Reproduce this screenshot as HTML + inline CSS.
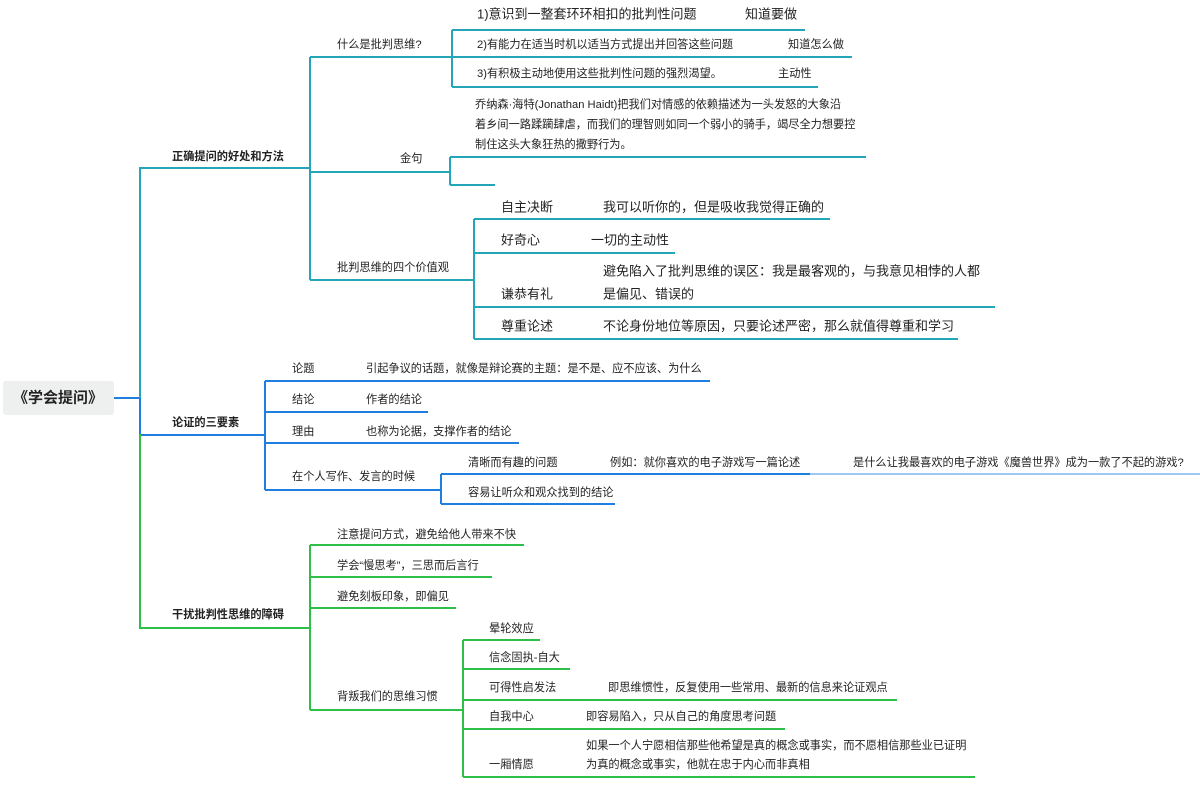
<!DOCTYPE html>
<html><head><meta charset="utf-8"><style>
html,body{margin:0;padding:0;background:#fff;}
svg{display:block;}
text{font-family:"Liberation Sans","Noto Sans CJK SC",sans-serif;font-size:11.2px;fill:#222;dominant-baseline:central;}
.t{stroke:#25a6b8;stroke-width:2;fill:none;}
.b{stroke:#1f7fe0;stroke-width:2;fill:none;}
.g{stroke:#2dbf48;stroke-width:2;fill:none;}
.big{font-size:13px;}
.bold{font-weight:bold;}
</style></head><body>
<svg width="1200" height="796" viewBox="0 0 1200 796">
<rect x="3" y="381" width="111" height="34" rx="3" fill="#eeefef"/>
<text x="58" y="398" text-anchor="middle" class="bold" style="font-size:15px">《学会提问》</text>
<path class="b" d="M114 398H140"/>
<path class="t" d="M140 398V168H310"/>
<path class="b" d="M140 398V435H265"/>
<path class="g" d="M140 434V628H310"/>

<!-- branch 1 -->
<text x="172" y="157" class="bold">正确提问的好处和方法</text>
<path class="t" d="M310 57V280"/>
<path class="t" d="M310 57H452M452 30V87M452 30H805M452 57H852M452 87H818"/>
<text x="337" y="45">什么是批判思维?</text>
<text x="477" y="14" class="big">1)意识到一整套环环相扣的批判性问题</text>
<text x="745" y="14" class="big">知道要做</text>
<text x="477" y="45">2)有能力在适当时机以适当方式提出并回答这些问题</text>
<text x="788" y="45">知道怎么做</text>
<text x="477" y="74">3)有积极主动地使用这些批判性问题的强烈渴望。</text>
<text x="778" y="74">主动性</text>

<path class="t" d="M310 172H450M450 157V185M450 157H866M450 185H495"/>
<text x="400" y="159">金句</text>
<text x="475" y="105">乔纳森·海特(Jonathan Haidt)把我们对情感的依赖描述为一头发怒的大象沿</text>
<text x="475" y="125">着乡间一路蹂躏肆虐，而我们的理智则如同一个弱小的骑手，竭尽全力想要控</text>
<text x="475" y="145">制住这头大象狂热的撒野行为。</text>

<path class="t" d="M310 280H474M474 219V339M474 219H830M474 253H675M474 307H995M474 339H958"/>
<text x="337" y="268">批判思维的四个价值观</text>
<text x="501" y="207" class="big">自主决断</text>
<text x="603" y="207" class="big">我可以听你的，但是吸收我觉得正确的</text>
<text x="501" y="240" class="big">好奇心</text>
<text x="591" y="240" class="big">一切的主动性</text>
<text x="603" y="271" class="big">避免陷入了批判思维的误区：我是最客观的，与我意见相悖的人都</text>
<text x="501" y="294" class="big">谦恭有礼</text>
<text x="603" y="294" class="big">是偏见、错误的</text>
<text x="501" y="326" class="big">尊重论述</text>
<text x="603" y="326" class="big">不论身份地位等原因，只要论述严密，那么就值得尊重和学习</text>

<!-- branch 2 -->
<text x="172" y="423" class="bold">论证的三要素</text>
<path class="b" d="M265 381V490M265 381H710M265 412H428M265 443H519M265 490H441M441 474V504M441 474H810M441 504H615"/>
<path d="M810 474H1200" stroke="#7fb8ee" stroke-width="1.5"/>
<text x="292" y="369">论题</text>
<text x="366" y="369">引起争议的话题，就像是辩论赛的主题：是不是、应不应该、为什么</text>
<text x="292" y="400">结论</text>
<text x="366" y="400">作者的结论</text>
<text x="292" y="432">理由</text>
<text x="366" y="432">也称为论据，支撑作者的结论</text>
<text x="292" y="477">在个人写作、发言的时候</text>
<text x="468" y="463">清晰而有趣的问题</text>
<text x="610" y="463">例如：就你喜欢的电子游戏写一篇论述</text>
<text x="853" y="463">是什么让我最喜欢的电子游戏《魔兽世界》成为一款了不起的游戏?</text>
<text x="468" y="493">容易让听众和观众找到的结论</text>

<!-- branch 3 -->
<text x="172" y="615" class="bold">干扰批判性思维的障碍</text>
<path class="g" d="M310 545V710M310 545H524M310 577H492M310 608H456M310 710H463M463 640V777M463 640H540M463 669H570M463 700H897M463 729H785M463 777H975"/>
<text x="337" y="535">注意提问方式，避免给他人带来不快</text>
<text x="337" y="566">学会“慢思考”，三思而后言行</text>
<text x="337" y="597">避免刻板印象，即偏见</text>
<text x="337" y="697">背叛我们的思维习惯</text>
<text x="489" y="629">晕轮效应</text>
<text x="489" y="658">信念固执-自大</text>
<text x="489" y="688">可得性启发法</text>
<text x="608" y="688">即思维惯性，反复使用一些常用、最新的信息来论证观点</text>
<text x="489" y="717">自我中心</text>
<text x="586" y="717">即容易陷入，只从自己的角度思考问题</text>
<text x="586" y="746">如果一个人宁愿相信那些他希望是真的概念或事实，而不愿相信那些业已证明</text>
<text x="489" y="765">一厢情愿</text>
<text x="586" y="765">为真的概念或事实，他就在忠于内心而非真相</text>
</svg>
</body></html>
